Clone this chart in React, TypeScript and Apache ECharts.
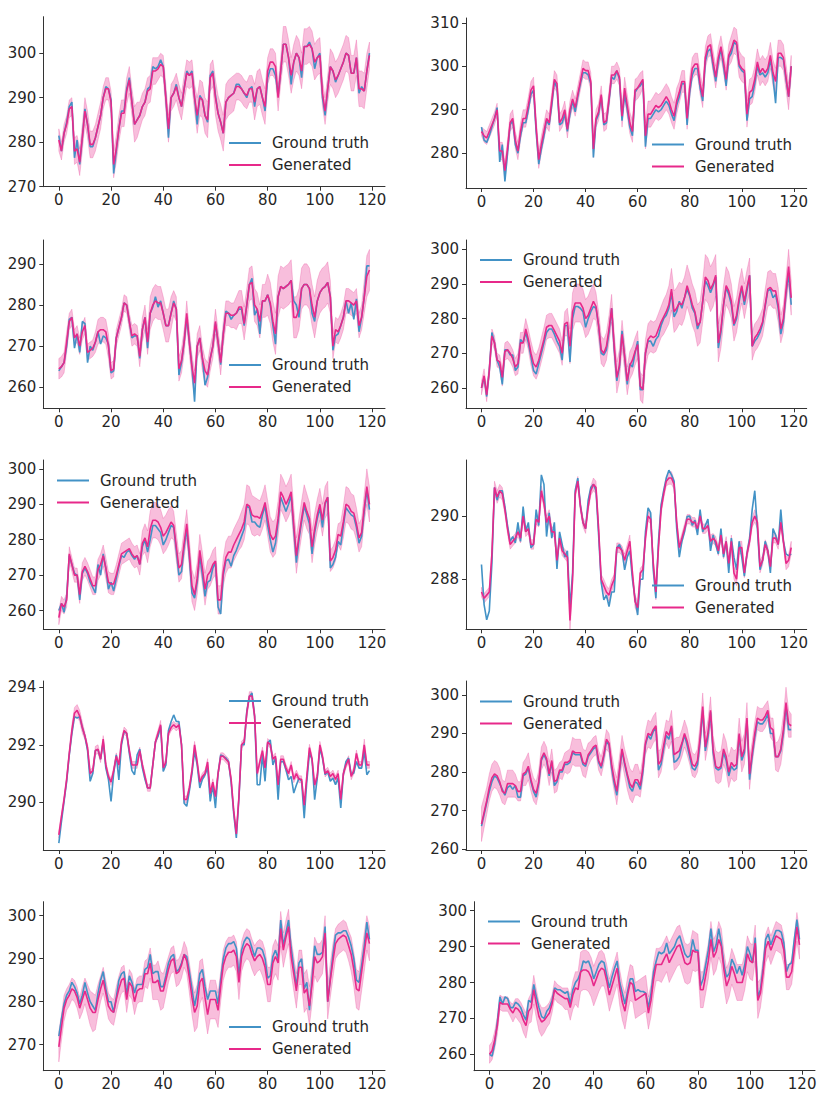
import React, { useEffect, useRef } from "react";
import * as echarts from "echarts";

const SERIES_NAMES = ["Ground truth", "Generated"];
const X_TICKS = [0, 20, 40, 60, 80, 100, 120];

const P1_GT = [
  281.5,278,282,284.5,288,289,276.5,280.5,275,281,
  287.5,284,279,279,281,283.5,286,290,292.5,292,
  289.5,273,278,283,287,287,292,294.5,289,284,
  285,286,288,289,292,292.5,297,296.5,297,298.5,
  297,290,281,290,291,293,290,288,292,296,
  295,296,290,284,290.5,289.5,286,284.5,295,296,
  290.5,286.5,284.5,282,289,290,290.5,291,293,293,
  292,291,290,292,292.5,288,292,292.5,290,287,
  294.5,296.5,296.5,295,290.5,296,302,302,299,293,
  298,300,299,294.5,301.5,301.5,302.5,301,296.5,299,
  300,290,286,292,297,296,293.5,295,296.5,298,
  300,299.5,295.5,295.5,299,291,292.5,291.5,296,300
];
const P1_GEN = [
  280.5,278,282,284,287.5,288,278,278.5,275.5,281,
  287,284,279.5,279.5,281,283.5,286,290,292,292,
  289,275,278.5,283,286.5,286.5,291.5,294,289,284,
  285,286,288,289,291.5,292,296,296,296.5,297.5,
  297,290,283,290,291,292.5,290,288,292,295.5,
  295,295.5,290,286,290,289.5,286,285,294.5,295.5,
  290,286.5,284.5,282,289,290,290.5,291,292.5,292.5,
  292,291,290.5,292,292,289,292,292.5,290,288,
  296,298,298,297,290,296,302,302,299,295,
  298,300,299,296,301.5,301.5,302,301,298,299,
  299.5,291,287,292,297,296,294,295,296.5,298,
  300,299.5,295.5,295.5,299,292,292,291.5,296,299.5
];
const P1_SPREAD = [
  2.5,2,2,2,2,2,3,3,3,3,
  3,3,3,3,3,3,3,2.5,2.5,2.5,
  2.5,3,3,3,3,3,3,3,3,4,
  4,3,3,3,3,3,3,3,2.5,2.5,
  2.5,3,3,3,3,3,3,3,3,3,
  3,3,3,4,4,4,4,4,3,3,
  4,4,4,4,4,4,4,4,3,3,
  3,3,3,3,3,4,4,4,4,4,
  3,3,3,3,3,3,4,4,4,4,
  4,4,4,4,4,4,4,4,4,4,
  4,3,3,3,4,4,4,4,4,4,
  4,4,4,4,4,4,4,4,4,3
];

const P2_GT = [
  286,283,282.5,284,286,288,290.5,278,282,273.5,
  280,286.5,287.5,282,280,284,287,287,290,293.5,
  294.5,285,277.5,281,284,287.5,286.5,291,296.5,295,
  286.5,287,289,285,289,292,289.5,293,296,298.5,
  298.5,298,296,279,287.5,289,293,286.5,287,292,
  297.5,297,299,297,287.5,293.5,290,286,284,294,
  295,295.5,296.5,281.5,288,288,289,290,289.5,290,
  291,292,291,289,287.5,291,293,296,296,286.5,
  294,298,299.5,299.5,295,292,301,303.5,304,300,
  296.5,301,304,300,295.5,302,303,305.5,305,300,
  299,298.5,287.5,292.5,293,296,300,298,298.5,297.5,
  298.5,301.5,297.5,291.5,302,302,301.5,297,293,300
];
const P2_GEN = [
  285,284,283.5,285,286.5,288,290,280.5,280.5,276,
  281,287,288,283,280.5,285,288,288,291,294.5,
  295.5,286,278.5,282,285,288,287,292,297,296,
  287,288,290,285.5,290,292.5,290.5,293.5,296.5,299.5,
  299,299,296.5,281,288,289.5,293.5,287,287.5,292.5,
  298,298,299,297.5,288.5,295,291,287,285,294.5,
  295,296,297,284,289,289,290,291,290.5,291,
  292,293,292,290,288.5,292,294,296.5,296.5,288,
  295,299.5,300.5,300.5,296,293,302,304.5,305,301,
  297.5,302,304.5,301,297,302.5,304,306,305.5,300.5,
  299.5,299,289,294,294.5,297,301,298.5,299.5,298.5,
  299.5,302.5,298.5,296.5,303,303,302,297.5,293,300
];
const P2_SPREAD = [
  1,1.5,1.5,1.5,1.5,1.5,1.5,2,2,2,
  2,2,2,2,2,2,2,2,2,2,
  2,2,2,2,2,2,2,2,2,2,
  2,2,2,2,2,2,2,2,2,2,
  2,2,2,2,2,2,2,2,2,2,
  2,2,2,2,2.5,2.5,2.5,2.5,2.5,2.5,
  2.5,2.5,2,3,3,3,3,3,3,3,
  3,3,3,3,3,3,2.5,2.5,2.5,2.5,
  2.5,2.5,2.5,2.5,2.5,2.5,2.5,2.5,2.5,2.5,
  2.5,2.5,2.5,2.5,2.5,2.5,3,3,3,3,
  3,3,3,3,3,3,3,3,3,3,
  3,3,3,3,3,3,3,3,3,2.5
];

const P3_GT = [
  264,265,266,270,276.5,277,269.5,273,268.5,276,
  275.5,266,270,269,271,273.5,270.5,272.5,272,270.5,
  263.5,264,272,274.5,277,280.5,280,276,272,272.5,
  272.5,267,274,277,269.5,278,279.5,282,279.5,281,
  278,275,275,278,281,279,263,266,271,277,
  271,265,256.5,270,272,267,260.5,262.5,267,270,
  275.5,271,265.5,273,278.5,278,276.5,277.5,278,279,
  279,275,280,285,286.5,277.5,279,273,281,281,
  282.5,280,275,270.5,282,284.5,284,284.5,285,286,
  281,280,277,284,285,285,284,278,276,281,
  283,284,284.5,285.5,282,269,272.5,273,275,277,
  281,278,280.5,276.5,281.5,273.5,277,282,289.5,289.5
];
const P3_GEN = [
  264.5,265,266,271,276,277,272,273,270,273.5,
  275,268.5,269,269.5,271,273.5,274,274,273.5,270,
  264,264.5,272,274.5,277,280.5,280,276,272.5,273,
  272.5,267.5,274,277,271,278,280,281,280.5,280.5,
  278,275,275,278,280.5,279,264.5,266.5,271,278,
  271,265,261,270,272,267,264,263,267,270,
  276,271,266,273,278,278,277.5,277.5,278,279.5,
  279.5,275.5,280,285,285.5,280,279,276,281,281,
  282.5,280.5,276,273,282,284.5,284,284.5,285,286,
  277,277,279,284,285,285,284,280,277,281,
  283,284,284.5,285.5,282,270,274,273.5,275,277,
  281,281,280.5,280,281,275,277,282,287,288.5
];
const P3_SPREAD = [
  2.5,2.5,2.5,2.5,2,2,2,2,2,2,
  2,2,2,2,2.5,3,3,3,3,3,
  2,2,2,2,2,2,2,2,2.5,2.5,
  2.5,2.5,3,3,3,4,4,4,4,4,
  4,4,4,4,3,3,3,3,3,3,
  3,3,3,3,3,3,3,3,3,3,
  3,3,3,3,3,3,3,3,4,4,
  4,4,4,4,4,4,4,4,4,4,
  5,5,5,5,5,5,5,5,5,5,
  5,5,5,5,5,5,5,5,5,5,
  5,5,5,5,4,3,3,3,3,3,
  3,3,3,3,3,3,3,4,5,5
];

const P4_GT = [
  260,263,257.5,265,276,273,268,266,261,271,
  271,269.5,269.5,265,266,274,273,276,273,269,
  265,264,267,270,273,276,277,277,275.5,273.5,
  272,268,278,278,267.5,280,283.5,283.5,283,282,
  277.5,280,282,283.5,283,278,270,269.5,271,276,
  283,271,262,266,276.5,269,261,267,266,270,
  273.5,259.5,259.5,270,273.5,273.5,272,274,275,278,
  280,281,283,287.5,280.5,282,285,283,286,288.5,
  286.5,283,281.5,277,279,285,291,289.5,287.5,289.5,
  292,271.5,276,284,289,287,284,278,280,285,
  289,284,288,292.5,272,273.5,274.5,276,278.5,283.5,
  288,288.5,286,287,283,275.5,279,287,293,284
];
const P4_GEN = [
  260,263.5,258,265,275,273,268,267.5,263,270.5,
  271,270,268.5,266,267,273,273,277,274,270,
  267,266,268,271,274,277.5,278,278,276.5,275,
  273.5,270,278.5,279,272,282,284.5,284.5,284.5,283,
  280,281,283,285,283.5,278,271,270,272,277,
  283,272,263,266.5,275.5,269,262,266.5,268,270.5,
  272.5,260.5,259.5,270,274,275,274.5,275,277,279,
  280.5,282,284,288.5,282,283,284.5,284,286,289.5,
  287,284,282,278,279,285,292,291,288.5,290,
  292.5,273,277,284,289.5,288,285,278.5,281,286,
  289.5,285,289,292.5,272,274.5,275.5,277,279,284,
  288.5,289,288,288,284,277,280,288,295,286
];
const P4_SPREAD = [
  2,2,2,2,2,2,2,2,2.5,2.5,
  2.5,2.5,2.5,2.5,3,3,3,3,3,3.5,
  3.5,3.5,3.5,3.5,3.5,3.5,3.5,3.5,3.5,3.5,
  3.5,3.5,3.5,4,5,5.5,5.5,5.5,5.5,5.5,
  5.5,5.5,5.5,5,4,4,4,4,4,4,
  4,4,4.5,4.5,4,4,4,4,4,4,
  4,4,4,4,4.5,4.5,4.5,4.5,4.5,4.5,
  5,5,5.5,6,6,6,6,6,6,6,
  6,6,6,6,6,6,6.5,6.5,6.5,6.5,
  6,5.5,5.5,5.5,5.5,5.5,5,5,5,5,
  5,5,5,5,4,4,4,4,4,4.5,
  5,5,5,5,5,4,4,4,5,5
];

const P5_GT = [
  260,262,259.5,264,275.5,273,270.5,270,263,270.5,
  272,270.5,268,266.5,265,273,270,276,272,266,
  268,265.5,269,272.5,275.5,275,276.5,277,275.5,274.5,
  275.5,273,278,280,276.5,280,284,284,283,282,
  278.5,280,282,284,283.5,277,270,271,278,283,
  275,265,263.5,268,275.5,270,264,268,268.5,272,
  273.5,261,259,270,274,274.5,272.5,275.5,277,279,
  281,283,289.5,289,285,285,284,283.5,287,289.5,
  284,280,276.5,279,285,292,290,288,290,292.5,
  283,273.5,280,285,289.5,287,284.5,276,282,286,
  289,283.5,290,292,272,273,275,279.5,278.5,284,
  289,288,287,286.5,283.5,279,281,288,294,288.5
];
const P5_GEN = [
  258,262,261,263,276,273,270,270,264.5,271,
  272.5,271,269,267,267,271.5,273,275.5,272,268,
  267.5,267.5,270,273,276,276.5,277,277.5,276,275,
  275.5,273,279,280.5,278,283,285.5,285.5,285,283.5,
  281,282,283.5,285,284,278,272,273,279,284.5,
  276,267,264.5,269,277,272,266,270,271,273,
  274,263,263,271,275,276.5,276.5,278.5,280,281.5,
  283,285,290,289.5,287,286.5,286.5,286,288,290.5,
  286,281.5,280,281,286,293.5,292,290,291.5,293.5,
  284,275.5,281,286,290.5,288,286,278,283,287,
  290,285.5,290.5,292,274,275,277,281.5,281,285,
  290,289.5,288,287.5,284.5,280.5,282,289,295,290
];
const P5_SPREAD = [
  2,2,2,2,2,2,2,2,2.5,2.5,
  2.5,2.5,2.5,2.5,2.5,3,3,3,3,3,
  3,3,3,3,3,3,3,3,3,3,
  3,3,3.5,4,4.5,5,5,5,5,5,
  5,5,5,4.5,4,4,4,4,4,4,
  4,4.5,4.5,4.5,4.5,4.5,4.5,4,4,4,
  4,4,4,4,4.5,4.5,4.5,4.5,4.5,4.5,
  5,5,5.5,5.5,5.5,5.5,5,5,5,5,
  5,5,5,5,5,5,5,5,5,5,
  5,5,5,5,5,5,4.5,4.5,4.5,4.5,
  4.5,4.5,4.5,4.5,3,3,3,3,4,4.5,
  5,5,5,5,4.5,4,4,4,5,5
];

const P6_GT = [
  288.47,287.2,286.72,287.0,288.5,290.9,290.5,290.8,290.8,290.3,
  289.7,289.2,289.35,289.15,289.8,289.2,290.3,289.5,289.8,289.0,
  289.1,290.2,289.7,291.3,291.0,289.35,290.1,289.3,289.8,288.33,
  289.5,289.1,288.7,288.9,287.1,288.2,290.8,291.2,290.35,289.8,
  289.6,290.5,290.9,291.0,290.8,289.4,287.9,287.35,287.5,287.14,
  287.6,287.6,289.0,289.1,288.9,288.3,288.7,288.9,288.0,287.4,
  286.87,288.0,288.0,289.5,290.26,290.1,288.3,287.4,289.2,290.35,
  290.8,291.2,291.45,291.3,291.1,289.6,288.7,289.2,289.5,289.98,
  290.0,289.7,289.87,289.4,290.2,289.5,289.7,289.9,288.9,289.4,
  289.1,288.8,289.6,288.7,289.2,288.2,289.3,288.7,288.3,289.2,
  288.7,288.1,288.8,289.3,290.2,290.8,289.6,288.3,288.6,289.2,
  288.9,288.2,289.6,289.4,289.1,290.2,289.2,288.8,288.75,288.8
];
const P6_GEN = [
  287.6,287.4,287.5,287.6,288.8,290.9,290.6,290.8,290.7,290.2,
  289.6,289.1,289.2,289.3,289.5,289.3,290.0,289.5,289.6,289.1,
  289.1,289.9,289.8,290.8,290.4,289.8,290.0,289.5,289.5,288.6,
  289.3,288.9,288.8,288.7,286.7,288.0,290.7,291.1,290.3,289.8,
  289.6,290.3,290.8,291.0,290.9,289.6,288.0,287.8,287.6,287.5,
  287.8,288.0,289.0,289.0,288.9,288.6,288.9,289.2,288.2,287.3,
  287.1,288.2,288.3,289.3,290.0,289.9,288.5,287.6,289.0,290.2,
  290.7,291.1,291.2,291.2,291.0,289.8,289.0,289.3,289.6,289.9,
  289.9,289.8,289.8,289.6,290.0,289.6,289.6,289.7,289.2,289.3,
  289.2,288.9,289.4,288.8,289.2,288.5,289.2,288.2,288.0,289.0,
  289.0,288.2,288.8,289.2,289.8,290.0,289.8,288.4,288.6,289.1,
  288.9,288.4,289.3,289.3,289.1,289.8,289.2,288.5,288.6,289.0
];
const P6_SPREAD = [
  .15,.15,.15,.15,.15,.2,.2,.2,.2,.15,
  .15,.15,.15,.15,.15,.15,.15,.15,.15,.15,
  .15,.15,.15,.15,.15,.2,.2,.15,.15,.15,
  .15,.15,.15,.15,.35,.2,.15,.15,.15,.15,
  .15,.15,.15,.2,.2,.15,.15,.2,.2,.2,
  .2,.15,.15,.15,.15,.2,.2,.2,.15,.2,
  .2,.15,.15,.15,.15,.15,.15,.25,.15,.15,
  .15,.15,.2,.2,.15,.15,.15,.15,.15,.15,
  .15,.15,.15,.15,.15,.15,.15,.15,.2,.15,
  .15,.15,.15,.15,.15,.2,.2,.2,.2,.2,
  .2,.15,.15,.15,.15,.2,.2,.2,.15,.15,
  .15,.15,.15,.15,.15,.15,.15,.2,.2,.2
];

const P7_GT = [
  288.58,289.33,290.03,290.73,291.65,292.4,292.98,292.93,292.98,292.6,
  292.3,291.8,290.73,291.0,291.8,291.83,291.5,292.1,291.2,290.8,
  290.03,291.0,291.65,290.78,292.0,292.46,292.4,291.7,291.1,290.96,
  291.65,291.85,291.2,290.8,290.5,290.5,291.3,292.1,292.3,292.64,
  291.07,291.3,292.5,292.8,293.04,292.81,292.81,292.0,289.97,289.86,
  290.4,291.0,291.77,291.3,290.5,290.8,290.96,291.2,290.03,290.6,
  289.8,291.0,291.65,291.6,291.54,291.42,290.7,289.6,288.76,290.15,
  292.0,292.0,293.16,293.68,293.8,293.0,290.61,290.61,291.65,290.73,
  292.06,292.17,291.3,291.54,290.09,291.42,291.42,291.13,290.78,290.9,
  290.32,290.6,290.84,290.73,289.45,290.73,291.71,291.5,290.09,290.84,
  291.88,291.54,290.96,291.07,290.73,290.84,290.61,290.84,289.8,290.96,
  291.42,291.54,290.96,291.02,291.42,291.19,291.19,291.77,290.96,291.1
];
const P7_GEN = [
  288.87,289.5,290.1,290.8,291.7,292.5,293.1,293.2,293.0,292.6,
  292.3,291.9,291.0,291.1,291.8,291.85,291.5,292.2,291.3,290.9,
  290.7,291.1,291.6,291.3,292.1,292.5,292.4,291.8,291.3,291.3,
  291.3,291.8,291.3,290.9,290.5,290.5,291.3,292.1,292.4,292.7,
  291.2,291.4,292.4,292.6,292.7,292.6,292.7,292.0,290.1,290.1,
  290.5,291.1,292.0,291.4,290.7,290.9,291.0,291.4,290.3,290.7,
  290.2,291.0,291.6,291.6,291.5,291.4,290.8,289.7,288.9,290.2,
  292.0,292.1,293.1,293.7,293.7,293.0,291.0,291.4,291.8,291.2,
  292.1,292.0,291.5,291.6,290.6,291.5,291.5,291.2,291.0,291.3,
  290.8,291.0,290.8,290.8,289.9,290.9,291.9,291.5,290.6,290.9,
  292.0,291.6,291.0,291.1,290.9,291.0,290.8,291.0,290.1,291.0,
  291.3,291.5,290.9,291.1,291.7,291.3,291.3,292.0,291.3,291.3
];
const P7_SPREAD = [
  .12,.12,.12,.12,.12,.2,.2,.2,.2,.2,
  .12,.12,.12,.12,.15,.15,.12,.12,.12,.12,
  .12,.12,.12,.12,.12,.12,.12,.12,.12,.12,
  .12,.12,.12,.12,.12,.12,.12,.12,.12,.15,
  .12,.12,.12,.12,.12,.12,.12,.12,.12,.12,
  .12,.12,.12,.12,.12,.12,.12,.12,.12,.12,
  .12,.12,.12,.12,.12,.12,.12,.12,.12,.12,
  .12,.12,.15,.15,.15,.15,.12,.12,.12,.12,
  .12,.12,.12,.12,.12,.12,.12,.12,.12,.12,
  .12,.12,.12,.12,.12,.12,.12,.12,.12,.12,
  .12,.12,.12,.12,.12,.12,.12,.12,.12,.12,
  .12,.12,.12,.12,.12,.12,.12,.2,.12,.12
];

const P8_GT = [
  266,269,272,275,277.5,279,278.5,277,275.5,274,
  276,276.5,275.5,276.5,273.5,273.5,279,279.5,281,277.5,
  275,273.5,277,283,284.5,283,279,282.5,276.5,277.5,
  280,280,282,282,282.5,285,284.5,284.5,284.5,282,
  281.5,284,285,286,286.5,282.5,281,284,288,287,
  281,277,274,280,285.5,282,279,276,275,277.5,
  277,275.5,280,287,289.5,288.5,290.5,291.5,280.5,282,
  286,289.5,288.5,291.5,282.5,283,284,287,289.5,287,
  284,281,280.5,282,288,296,285.5,289,295.5,285,
  281,280.5,281,285,283,279,281.5,280.5,281,289.5,
  283,285,293.5,278,284,289,293,292.5,292.5,293.5,
  295,290,290,284,284,285.5,290,297,291,291
];
const P8_GEN = [
  266.5,269.5,272.5,276,278.5,279.5,279,277.5,275,274.5,
  277,277,277,276.5,275,275,279.5,280,281.5,278,
  275.5,274.5,277.5,283.5,285,283.5,279.5,283,277.5,278,
  280.5,280.5,282.5,282.5,283,285.5,285,285,285,282.5,
  282,284.5,285.5,286.5,287,283,281.5,284.5,288.5,287.5,
  282,278,275,280.5,286,282.5,279.5,277,276,278,
  278,276.5,281,287.5,290,289.5,291,292,282,283,
  287,290.5,289.5,292,284.5,285,285.5,287.5,290,288,
  285,282,281.5,283,289,297,286.5,290,296,286,
  281.5,281,281.5,286,284,280,282.5,281.5,282,290,
  284,286,294,279.5,285,290,294,293.5,293.5,294.5,
  296,291.5,291,284,284,286,291,298,292.5,292
];
const P8_SPREAD = [
  4.5,4,3.5,3.5,3.5,3.5,3.5,3.5,3,3,
  3.5,3.5,3.5,3,2.5,2.5,3,3.5,3.5,3,
  3,3,3,3,3,3,3,3,3,3,
  2,2.5,2.5,3,3,3.5,3.5,3.5,3.5,3.5,
  3.5,3,2.5,2.5,2.5,2.5,2.5,2.5,2.5,2.5,
  3,3,3.5,3.5,3.5,3.5,4,4,4,4,
  4,3,3,3,3.5,3.5,3.5,3.5,3.5,3,
  3,3,3.5,4,4,4,3.5,3.5,3.5,3.5,
  3,3,3,3,3.5,3.5,3.5,3.5,3.5,3.5,
  4,4,4,4,4,4,4,4,4,4,
  4,4,4,4,3,3,3,3,3,3,
  2.5,2.5,3,3.5,4,4,4,4,3.5,3
];

const P9_GT = [
  272,276,279.5,281.5,282.5,284.5,283.5,282,279.5,281.5,
  284.5,282,280,279,278,282,285,287,283,280,
  280,277.5,281,285,286.5,287,281.5,286,284.5,282,
  284,284,284,287.5,288,291,286.5,287,287,283.5,
  283.5,286,289,290.5,291,287,287.5,289,291,290.5,
  287,283,279,282,286.5,287.5,283.5,280.5,282.5,282.5,
  282.5,279.5,285,290,292.5,293.5,293.5,294,292.5,286,
  292,294,295,294.5,292.5,290.5,292.5,292.5,292,290,
  285.5,286,290.5,292,290,299,293,296,299,292.5,
  288,283.5,289,290,283,284.5,278,285.5,293,291,
  291,291.5,297.5,280,285.5,291,295.5,296,296,296.5,
  296.5,295,293,290,285,284.5,288.5,293,298.5,294.5
];
const P9_GEN = [
  269.5,274,278.5,280.5,281.5,283,282.5,281,278.5,280.5,
  282.5,280.5,278.5,277.5,277.5,280.5,283,285,282,279,
  278,277.5,280.5,283,285,285.5,280.5,284.5,283.5,280,
  282.5,283,283,286.5,286.5,289,284.5,284.5,285,282.5,
  282.5,285,287.5,289.5,290,286.5,287,288.5,291,289.5,
  285.5,281,277.5,279,284.5,285.5,281,277,280.5,280.5,
  280.5,278,283.5,288.5,290.5,291.5,291.5,292,290.5,284.5,
  290.5,292.5,293.5,293,291,289.5,290.5,291,290,288,
  284,284,289,290.5,289,297,292,295,297.5,290.5,
  286.5,282.5,288,288,282,283,279,284,290.5,289,
  289.5,290.5,296,280,285,289.5,293.5,294.5,295,295.5,
  295,293,291,287.5,283,282.5,287,291.5,296,293.5
];
const P9_SPREAD = [
  3.5,3,3,2.5,2.5,2.5,2.5,2.5,2.5,3,
  3,3.5,4,4.5,4,3.5,3,3,3,3,
  3,3,3,3,3,3,3,3,3,3,
  3,3,3,3,3.5,3.5,4,4,4.5,4.5,
  4,3.5,3,3,3,3,3,3,3,3,
  3.5,4,4.5,5,5,4.5,4.5,4.5,4.5,4.5,
  4.5,4,3.5,3.5,3.5,3.5,3.5,3.5,3.5,4,
  3.5,3.5,3.5,3.5,3.5,3.5,3.5,3.5,4,4,
  4,4,4,4,4,4,4,4,4,4,
  4,4,4,4,4.5,4.5,4.5,4.5,4.5,4.5,
  4,4,4,4,4,4,3.5,3.5,3.5,3.5,
  3.5,3.5,4,4,4.5,4.5,4.5,4.5,4,4
];

const P10_GT = [
  260,259.5,263,269,276,274,276,275.5,273,273,
  274.5,274,273,271,269.5,275,274.5,279.5,276,273,
  270.5,270,272,273,275,278.5,278,278,277.5,277,
  277.5,274,278,280,281,283,286,285.5,286,284,
  281,283,285,286,285.5,282,278.5,281.5,284,286,
  280,277,274,277.5,281,281,277.5,278,277.5,277.5,
  277,273,277,283,286,288.5,288,288.5,291,288,
  289,290,292,293,290.5,288,287,287.5,292,289,
  289,279,281,285,289,295,288.5,290.5,295,291,
  285,281.5,282.5,286.5,285,282.5,284.5,282,285,290,
  288,285.5,292.5,276,278,284,292,293.5,290.5,292.5,
  294.5,294.5,294,291,283,285,285.5,292,297.5,292
];
const P10_GEN = [
  260,261,264,268,274.5,274,274,274,272.5,271.5,
  273,272.5,271.5,269.5,268,272,273,278,274,270.5,
  269,269.5,270.5,271.5,274,278,277,276.5,276,275.5,
  275.5,273,276.5,278.5,278,283,283.5,283.5,283,281.5,
  279,281,283,284,283.5,280.5,276.5,279,281.5,284,
  278.5,274.5,272,276.5,280,279.5,275,275.5,276,276.5,
  277,271.5,275,281,285,285,285,286.5,288,285.5,
  287,288.5,290,290.5,288,285.5,285,285.5,289,288.5,
  288.5,278,278,282,286,292,287,288.5,292,290,
  283.5,279,281,284.5,282.5,280,280,280,283,288,
  286,285.5,291,275,277,282.5,289.5,291.5,289,291,
  293,292.5,292,289,281.5,281.5,283,289,295.5,290.5
];
const P10_SPREAD = [
  2.5,2.5,2.5,2.5,2,2,2,2,2,2.5,
  2.5,3,3,3.5,3.5,3.5,4,4,4,4,
  4,3.5,3,3,2.5,2.5,2.5,2.5,2.5,3,
  3,3.5,4,4.5,5,5.5,5.5,5.5,5.5,5.5,
  5.5,5.5,5.5,5,4.5,4.5,4.5,4.5,4.5,4.5,
  5,5,5,5,5,5,5,5,5,5,
  5,4.5,4.5,4.5,4.5,4.5,5,5,5,5.5,
  5.5,5.5,5.5,5.5,5.5,5.5,5.5,5.5,5.5,5.5,
  5,5,5,5,5,5,5,5,5,5,
  5,5,5,5,5,5,5,5,5,5,
  5,5,5,5,4,4,4,4,4,4,
  4,4,4,4,3.5,3.5,3.5,3.5,4,4
];

const Y_TICKS = [
  [270, 280, 290, 300],
  [280, 290, 300, 310],
  [260, 270, 280, 290],
  [260, 270, 280, 290, 300],
  [260, 270, 280, 290, 300],
  [288, 290],
  [290, 292, 294],
  [260, 270, 280, 290, 300],
  [270, 280, 290, 300],
  [260, 270, 280, 290, 300],
];

const PANEL_DATA = [
  [P1_GT, P1_GEN, P1_SPREAD],
  [P2_GT, P2_GEN, P2_SPREAD],
  [P3_GT, P3_GEN, P3_SPREAD],
  [P4_GT, P4_GEN, P4_SPREAD],
  [P5_GT, P5_GEN, P5_SPREAD],
  [P6_GT, P6_GEN, P6_SPREAD],
  [P7_GT, P7_GEN, P7_SPREAD],
  [P8_GT, P8_GEN, P8_SPREAD],
  [P9_GT, P9_GEN, P9_SPREAD],
  [P10_GT, P10_GEN, P10_SPREAD],
];

// layout: grid rect, y-axis range, legend position
const LAYOUT = [
  { left: 43.3, top: 16.7, width: 341.7, height: 170, yMin: 270, yMax: 308.2, lx: 229, ly: 135 },
  { left: 466, top: 18, width: 340.7, height: 170, yMin: 272.0, yMax: 311.1, lx: 652, ly: 136.5 },
  { left: 43.3, top: 240, width: 341.7, height: 168.3, yMin: 254.9, yMax: 295.8, lx: 229, ly: 357 },
  { left: 466, top: 240, width: 340.7, height: 168.3, yMin: 254.1, yMax: 302.7, lx: 480, ly: 252 },
  { left: 43.3, top: 460, width: 341.7, height: 169.3, yMin: 254.7, yMax: 302.5, lx: 57, ly: 472.5 },
  { left: 466, top: 460, width: 340.7, height: 169.3, yMin: 286.42, yMax: 291.77, lx: 652, ly: 577.5 },
  { left: 43.3, top: 681, width: 341.7, height: 169, yMin: 288.34, yMax: 294.22, lx: 229, ly: 693 },
  { left: 466, top: 681, width: 340.7, height: 169, yMin: 259.8, yMax: 303.6, lx: 480, ly: 693.5 },
  { left: 43.3, top: 901.7, width: 341.7, height: 169, yMin: 263.95, yMax: 303.26, lx: 229, ly: 1019 },
  { left: 474, top: 901.7, width: 341, height: 169, yMin: 255.44, yMax: 302.5, lx: 488, ly: 913.5 },
];

const BLUE = "#4292c6";
const PINK = "#e7298a";
const BAND = "rgba(231,41,138,0.3)";
const AXIS_COLOR = "#333333";
const TEXT_COLOR = "#262626";
const FONT = "DejaVu Sans";

function buildOption() {
  const grid: any[] = [];
  const xAxis: any[] = [];
  const yAxis: any[] = [];
  const series: any[] = [];
  const legend: any[] = [];

  LAYOUT.forEach((L, i) => {
    const [gt, gen, spread] = PANEL_DATA[i];
    grid.push({ left: L.left, top: L.top, width: L.width, height: L.height, containLabel: false });
    xAxis.push({
      type: "value",
      gridIndex: i,
      min: -5.95,
      max: 124.95,
      axisLine: { show: true, onZero: false, lineStyle: { color: AXIS_COLOR, width: 1 } },
      axisTick: { show: true, length: 4, customValues: X_TICKS, lineStyle: { color: AXIS_COLOR, width: 1 } },
      axisLabel: { customValues: X_TICKS, fontSize: 15, color: TEXT_COLOR, fontFamily: FONT, margin: 6 },
      splitLine: { show: false },
    });
    yAxis.push({
      type: "value",
      gridIndex: i,
      min: L.yMin,
      max: L.yMax,
      axisLine: { show: true, onZero: false, lineStyle: { color: AXIS_COLOR, width: 1 } },
      axisTick: { show: true, length: 4, customValues: Y_TICKS[i], lineStyle: { color: AXIS_COLOR, width: 1 } },
      axisLabel: { customValues: Y_TICKS[i], fontSize: 15, color: TEXT_COLOR, fontFamily: FONT, margin: 7 },
      splitLine: { show: false },
    });
    const bandData = gen.map((v, j) => [j, v - spread[j], v + spread[j]]);
    series.push({
      type: "custom",
      name: `band-${i}`,
      xAxisIndex: i,
      yAxisIndex: i,
      silent: true,
      clip: true,
      encode: { x: 0, y: [1, 2] },
      data: bandData,
      z: 1,
      renderItem: (params: any, api: any) => {
        if (params.dataIndex !== 0) return null;
        const upper = bandData.map((d) => api.coord([d[0], d[2]]));
        const lower = bandData.map((d) => api.coord([d[0], d[1]])).reverse();
        return {
          type: "polygon",
          silent: true,
          shape: { points: upper.concat(lower) },
          style: { fill: BAND, stroke: BAND, lineWidth: 0.8 },
        };
      },
    });
    series.push({
      type: "line",
      name: SERIES_NAMES[0],
      xAxisIndex: i,
      yAxisIndex: i,
      symbol: "none",
      color: BLUE,
      itemStyle: { color: BLUE },
      lineStyle: { color: BLUE, width: 1.6 },
      data: gt.map((v, j) => [j, v]),
      z: 2,
    });
    series.push({
      type: "line",
      name: SERIES_NAMES[1],
      xAxisIndex: i,
      yAxisIndex: i,
      symbol: "none",
      color: PINK,
      itemStyle: { color: PINK },
      lineStyle: { color: PINK, width: 1.6 },
      data: gen.map((v, j) => [j, v]),
      z: 3,
    });
    legend.push({
      left: L.lx,
      top: L.ly,
      orient: "vertical",
      padding: 0,
      data: SERIES_NAMES,
      icon: "rect",
      itemWidth: 32,
      itemHeight: 2,
      itemGap: 6,
      selectedMode: false,
      textStyle: { fontSize: 15, color: TEXT_COLOR, fontFamily: FONT, padding: [0, 0, 0, 6], lineHeight: 16 },
    });
  });

  return {
    animation: false,
    backgroundColor: "#ffffff",
    textStyle: { fontFamily: FONT },
    grid,
    xAxis,
    yAxis,
    legend,
    series,
  };
}

export default function App() {
  const ref = useRef<HTMLDivElement>(null);
  useEffect(() => {
    if (!ref.current) return;
    const chart = echarts.init(ref.current, undefined, { renderer: "svg" });
    chart.setOption(buildOption());
    return () => chart.dispose();
  }, []);
  return (
    <div
      ref={ref}
      style={{ position: "absolute", left: 0, top: 0, width: 831, height: 1114, background: "#fff" }}
    />
  );
}
